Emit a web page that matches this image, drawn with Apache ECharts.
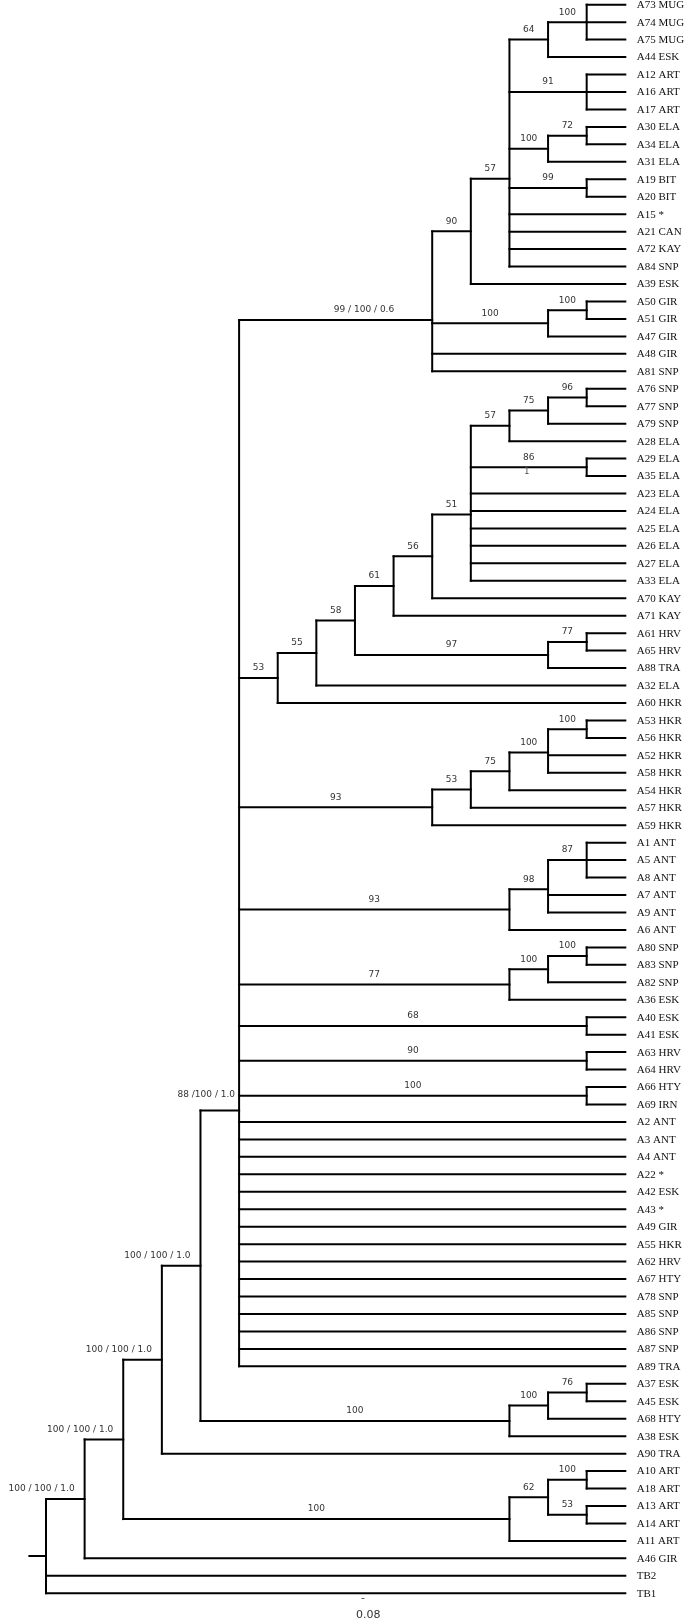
<!DOCTYPE html>
<html>
<head>
<meta charset="utf-8">
<script src="https://cdn.jsdelivr.net/npm/echarts@6/dist/echarts.min.js"></script>
<style>
html,body{margin:0;padding:0;background:#fff;}
#chart{width:685px;height:1624px;}
</style>
</head>
<body>
<div id="chart"></div>
<script>
// ---------------- DATA ----------------
// Sub-trees in Newick form; branch lengths are in node-depth steps, internal labels are support values.
const topClade = "((((('A73 MUG','A74 MUG','A75 MUG')100:1,'A44 ESK')64:1,('A12 ART','A16 ART','A17 ART')91:2,(('A30 ELA','A34 ELA')72:1,'A31 ELA')100:1,('A19 BIT','A20 BIT')99:2,'A15 *','A21 CAN','A72 KAY','A84 SNP')57:1,'A39 ESK')90:1,(('A50 GIR','A51 GIR')100:1,'A47 GIR')100:3,'A48 GIR','A81 SNP')'99 / 100 / 0.6':5";
const elaClade = "((((((((('A76 SNP','A77 SNP')96:1,'A79 SNP')75:1,'A28 ELA')57:1,('A29 ELA','A35 ELA')86:3,'A23 ELA','A24 ELA','A25 ELA','A26 ELA','A27 ELA','A33 ELA')51:1,'A70 KAY')56:1,'A71 KAY')61:1,(('A61 HRV','A65 HRV')77:1,'A88 TRA')97:5)58:1,'A32 ELA')55:1,'A60 HKR')53:1";
const hkrClade = "((((('A53 HKR','A56 HKR')100:1,'A52 HKR','A58 HKR')100:1,'A54 HKR')75:1,'A57 HKR')53:1,'A59 HKR')93:5";
const antClade = "((('A1 ANT','A5 ANT','A8 ANT')87:1,'A7 ANT','A9 ANT')98:1,'A6 ANT')93:7";
const snpClade = "((('A80 SNP','A83 SNP')100:1,'A82 SNP')100:1,'A36 ESK')77:7";
const pairClades = ["('A40 ESK','A41 ESK')68:9", "('A63 HRV','A64 HRV')90:9", "('A66 HTY','A69 IRN')100:9"];
const backboneLeaves = ['A2 ANT','A3 ANT','A4 ANT','A22 *','A42 ESK','A43 *','A49 GIR','A55 HKR','A62 HRV','A67 HTY','A78 SNP','A85 SNP','A86 SNP','A87 SNP','A89 TRA'];
const eskClade = "((('A37 ESK','A45 ESK')76:1,'A68 HTY')100:1,'A38 ESK')100:8";
const artClade = "((('A10 ART','A18 ART')100:1,('A13 ART','A14 ART')53:1)62:1,'A11 ART')100:10";
const backboneSupport = ['88 /100 / 1.0', '100 / 100 / 1.0', '100 / 100 / 1.0', '100 / 100 / 1.0', '100 / 100 / 1.0'];
const outgroups = ['A90 TRA', 'A46 GIR', 'TB2', 'TB1'];
const scaleBarLabel = '0.08';
const tipDepth = 15;
const rootStub = 0.43;

// ---------------- BUILD TREE ----------------
const q = s => "'" + s + "'";
const n5 = "(" + [topClade, elaClade, hkrClade, antClade, snpClade].concat(pairClades).concat(backboneLeaves.map(q)).join(',') + ")" + q(backboneSupport[0]) + ":1";
const n4 = "(" + n5 + "," + eskClade + ")" + q(backboneSupport[1]) + ":1";
const n3 = "(" + n4 + "," + q(outgroups[0]) + ")" + q(backboneSupport[2]) + ":1";
const n2 = "(" + n3 + "," + artClade + ")" + q(backboneSupport[3]) + ":1";
const n1 = "(" + n2 + "," + q(outgroups[1]) + ")" + q(backboneSupport[4]) + ":1";
const newick = "(" + n1 + "," + q(outgroups[2]) + "," + q(outgroups[3]) + ");";

function parseNewick(s) {
  let i = 0;
  const ws = () => { while (i < s.length && /\s/.test(s[i])) i++; };
  function label() {
    ws();
    if (s[i] === "'") { const j = s.indexOf("'", i + 1); const t = s.slice(i + 1, j); i = j + 1; return t; }
    const m = /^[^,():;']*/.exec(s.slice(i)); i += m[0].length; return m[0].trim();
  }
  function node() {
    ws();
    const nd = { children: [], name: '', len: 0 };
    if (s[i] === '(') {
      i++;
      nd.children.push(node()); ws();
      while (s[i] === ',') { i++; nd.children.push(node()); ws(); }
      if (s[i] !== ')') throw new Error('Newick: expected ) at ' + i);
      i++;
    }
    nd.name = label(); ws();
    if (s[i] === ':') { i++; const m = /^[0-9.eE+-]+/.exec(s.slice(i)); i += m[0].length; nd.len = parseFloat(m[0]); }
    return nd;
  }
  return node();
}

const root = parseNewick(newick);
const segments = [];   // [x1,y1,x2,y2]
const texts = [];      // {x,y,text,kind}
let leafIdx = 0;
function layout(nd, depth) {
  nd.x = depth;
  if (!nd.children.length) { nd.x = tipDepth; nd.y = leafIdx++; return; }
  nd.children.forEach(c => layout(c, depth + (c.children.length ? c.len : 0)));
  nd.y = nd.children.reduce((a, c) => a + c.y, 0) / nd.children.length;
}
layout(root, 0);
function collect(nd, parent) {
  if (parent) {
    segments.push([parent.x, nd.y, nd.x, nd.y]);
    if (nd.children.length && nd.name) texts.push({ x: parent.x, x2: nd.x, y: nd.y, text: nd.name, kind: nd.name.indexOf('/') >= 0 ? 'multi' : 'support' });
  }
  if (nd.children.length) {
    segments.push([nd.x, nd.children[0].y, nd.x, nd.children[nd.children.length - 1].y]);
    nd.children.forEach(c => collect(c, nd));
  } else {
    texts.push({ x: nd.x, y: nd.y, text: nd.name, kind: 'leaf' });
  }
}
collect(root, null);
segments.push([-rootStub, root.y, 0, root.y]);

// ---------------- STYLE / LAYOUT ----------------
const STEP = 38.62, X0 = 46, TOP = 4.7, ROWH = 17.457;
const nLeaves = leafIdx;
const multiNudge = { '88 /100 / 1.0': [6, -6], '99 / 100 / 0.6': [-28, 0] };

const chart = echarts.init(document.getElementById('chart'), null, { renderer: 'canvas' });
chart.setOption({
  animation: false,
  backgroundColor: '#fff',
  grid: { left: X0 - STEP, right: 685 - X0 - STEP * tipDepth, top: TOP, height: ROWH * (nLeaves - 1) },
  xAxis: { type: 'value', min: -1, max: tipDepth, show: false },
  yAxis: { type: 'value', min: 0, max: nLeaves - 1, inverse: true, show: false },
  graphic: [
    { type: 'text', left: 361, top: 1593, style: { text: '-', font: '11px "DejaVu Sans"', fill: '#444' } },
    { type: 'text', left: 356, top: 1610, style: { text: scaleBarLabel, font: '11px "DejaVu Sans"', fill: '#333' } }
  ],
  series: [
    {
      type: 'custom', silent: true, clip: false,
      data: segments,
      renderItem: (params, api) => {
        const s = segments[params.dataIndex];
        const a = api.coord([s[0], s[1]]), b = api.coord([s[2], s[3]]);
        return { type: 'line', shape: { x1: a[0], y1: a[1], x2: b[0], y2: b[1] },
          style: { stroke: '#000', lineWidth: 2, lineCap: 'square' } };
      }
    },
    {
      type: 'custom', silent: true, clip: false,
      data: texts.map((t, i) => [t.x, t.y]),
      renderItem: (params, api) => {
        const t = texts[params.dataIndex];
        if (t.kind === 'leaf') {
          const p = api.coord([t.x, t.y]);
          return { type: 'text', x: p[0] + 11.5, y: p[1] + 0.5,
            style: { text: t.text, font: '11px "Liberation Serif"', fill: '#111', align: 'left', verticalAlign: 'middle' } };
        }
        const a = api.coord([t.x, t.y]), b = api.coord([t.x2, t.y]);
        if (t.kind === 'multi') {
          const nd = multiNudge[t.text] || [0, 0];
          return { type: 'text', x: b[0] - 10 + nd[0], y: a[1] - 10 + nd[1],
            style: { text: t.text, font: '9px "DejaVu Sans"', fill: '#333', align: 'right', verticalAlign: 'middle' } };
        }
        const els = [{ type: 'text', x: (a[0] + b[0]) / 2, y: a[1] - 10,
          style: { text: t.text, font: '9px "DejaVu Sans"', fill: '#333', align: 'center', verticalAlign: 'middle' } }];
        if (t.text === '86' && t.x2 - t.x === 3) {
          els.push({ type: 'text', x: (a[0] + b[0]) / 2 - 2, y: a[1] + 4.5,
            style: { text: '1', font: '8px "DejaVu Sans"', fill: '#444', align: 'center', verticalAlign: 'middle' } });
        }
        return { type: 'group', children: els };
      }
    }
  ]
});
</script>
</body>
</html>
